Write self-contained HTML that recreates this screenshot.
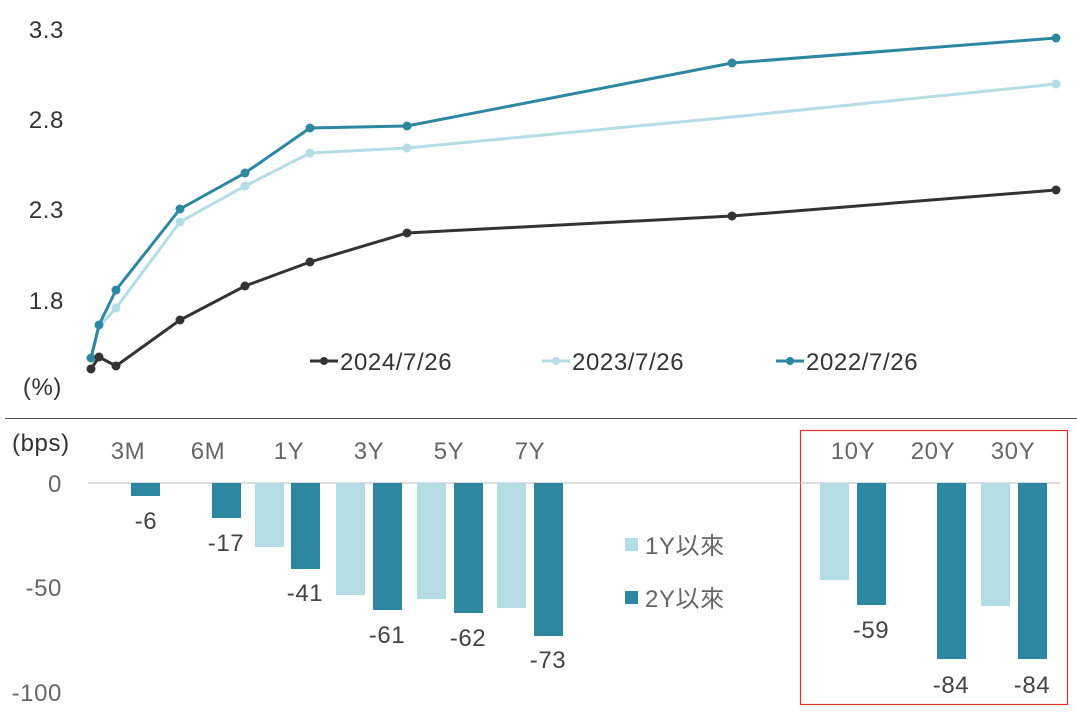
<!DOCTYPE html>
<html><head><style>body{margin:0;background:#fff}svg{display:block}text{font-family:"Liberation Sans","Noto Sans CJK TC",sans-serif;letter-spacing:0.6px}</style></head><body>
<svg width="1077" height="718" viewBox="0 0 1077 718">
<g font-size="24" fill="#333" text-anchor="end">
<text x="64" y="38">3.3</text><text x="64" y="128">2.8</text><text x="64" y="218">2.3</text><text x="64" y="309">1.8</text>
<text x="62" y="395">(%)</text>
</g>
<g fill="none" stroke-width="3">
<polyline stroke="#b5dde6" points="91,359 99,327 116,308 180,222 245,186 310,153 407,148 732,117 1056,84"/>
<polyline stroke="#2e87a0" points="91,358 99,325 116,290 180,209 245,173 310,128 407,126 732,63 1056,38"/>
<polyline stroke="#333" points="91,369 99,357 116,366 180,320 245,286 310,262 407,233 732,216 1056,190"/>
</g>
<g fill="#b5dde6"><circle cx="116" cy="308" r="4.5"/><circle cx="180" cy="222" r="4.5"/><circle cx="245" cy="186" r="4.5"/><circle cx="310" cy="153" r="4.5"/><circle cx="407" cy="148" r="4.5"/><circle cx="1056" cy="84" r="4.5"/></g>
<g fill="#2e87a0"><circle cx="91" cy="358" r="4.5"/><circle cx="99" cy="325" r="4.5"/><circle cx="116" cy="290" r="4.5"/><circle cx="180" cy="209" r="4.5"/><circle cx="245" cy="173" r="4.5"/><circle cx="310" cy="128" r="4.5"/><circle cx="407" cy="126" r="4.5"/><circle cx="732" cy="63" r="4.5"/><circle cx="1056" cy="38" r="4.5"/></g>
<g fill="#333"><circle cx="91" cy="369" r="4.5"/><circle cx="99" cy="357" r="4.5"/><circle cx="116" cy="366" r="4.5"/><circle cx="180" cy="320" r="4.5"/><circle cx="245" cy="286" r="4.5"/><circle cx="310" cy="262" r="4.5"/><circle cx="407" cy="233" r="4.5"/><circle cx="732" cy="216" r="4.5"/><circle cx="1056" cy="190" r="4.5"/></g>
<g stroke-width="3"><line x1="310" y1="361" x2="338" y2="361" stroke="#333"/><line x1="542" y1="361" x2="570" y2="361" stroke="#b5dde6"/><line x1="776" y1="361" x2="804" y2="361" stroke="#2e87a0"/></g>
<circle cx="324" cy="361" r="4" fill="#333"/><circle cx="556" cy="361" r="4" fill="#b5dde6"/><circle cx="790" cy="361" r="4" fill="#2e87a0"/>
<g font-size="24" fill="#333" letter-spacing="1.2"><text x="340" y="370">2024/7/26</text><text x="572" y="370">2023/7/26</text><text x="806" y="370">2022/7/26</text></g>
<line x1="5" y1="418.5" x2="1077" y2="418.5" stroke="#555" stroke-width="1"/>
<rect x="800.5" y="430.5" width="267" height="274" fill="none" stroke="#e03030" stroke-width="1.2"/>
<g font-size="24" fill="#666" text-anchor="end"><text x="62" y="492">0</text><text x="62" y="596">-50</text><text x="62" y="701">-100</text></g>
<text x="12" y="451" font-size="24" fill="#333">(bps)</text>
<line x1="88" y1="483" x2="1060" y2="483" stroke="#bbb"/>
<g font-size="24" fill="#666" text-anchor="middle"><text x="128" y="459">3M</text><text x="208" y="459">6M</text><text x="289" y="459">1Y</text><text x="369" y="459">3Y</text><text x="449" y="459">5Y</text><text x="530" y="459">7Y</text><text x="853" y="459">10Y</text><text x="933" y="459">20Y</text><text x="1013" y="459">30Y</text></g>
<g fill="#b5dde6"><rect x="255" y="483" width="29" height="64"/><rect x="336" y="483" width="29" height="112"/><rect x="417" y="483" width="29" height="116"/><rect x="497" y="483" width="29" height="125"/><rect x="820" y="483" width="29" height="97"/><rect x="981" y="483" width="29" height="123"/></g>
<g fill="#2e87a0"><rect x="131" y="483" width="29" height="13"/><rect x="212" y="483" width="29" height="35"/><rect x="291" y="483" width="29" height="86"/><rect x="373" y="483" width="29" height="127"/><rect x="454" y="483" width="29" height="130"/><rect x="534" y="483" width="29" height="153"/><rect x="857" y="483" width="29" height="122"/><rect x="937" y="483" width="29" height="176"/><rect x="1018" y="483" width="29" height="176"/></g>
<g font-size="24" fill="#444" text-anchor="middle"><text x="146" y="529">-6</text><text x="226" y="551">-17</text><text x="305" y="601">-41</text><text x="387" y="643">-61</text><text x="468" y="646">-62</text><text x="548" y="668">-73</text><text x="871" y="638">-59</text><text x="951" y="693">-84</text><text x="1032" y="693">-84</text></g>
<rect x="625" y="538" width="13" height="13" fill="#b5dde6"/><rect x="625" y="591" width="13" height="13" fill="#2e87a0"/>
<g font-size="24" fill="#666"><text x="645" y="554">1Y以來</text><text x="645" y="607">2Y以來</text></g>
</svg>
</body></html>
